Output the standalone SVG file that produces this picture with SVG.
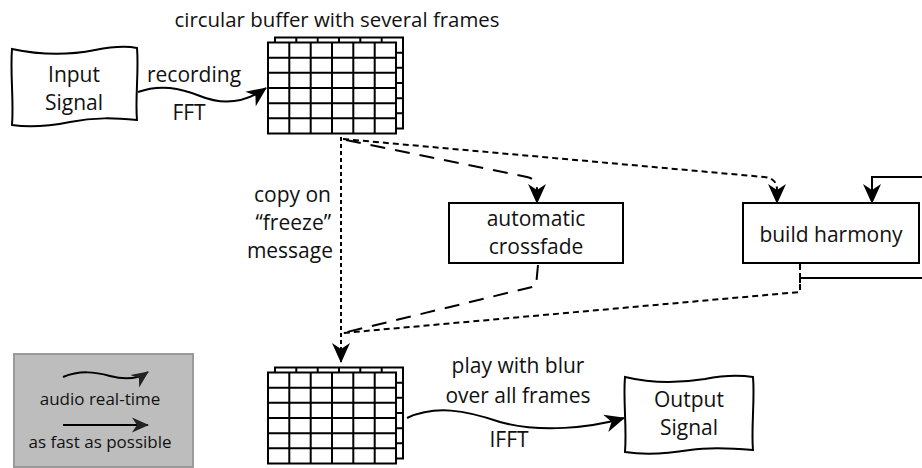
<svg xmlns="http://www.w3.org/2000/svg" xmlns:xlink="http://www.w3.org/1999/xlink" width="922" height="468" viewBox="0 0 922 468">
  <style>
    text { font-family: "Open Sans", "Noto Sans", sans-serif; fill: #111; }
    .lbl { font-size: 21px; text-anchor: middle; }
    .lbl-r { font-size: 21px; text-anchor: end; }
    .title { font-size: 20.4px; text-anchor: middle; }
    .small { font-size: 17px; text-anchor: middle; }
    .box { fill: #fff; stroke: #000; stroke-width: 2; }
    .grid { fill: #fff; stroke: #000; stroke-width: 2; }
    .wire { fill: none; stroke: #000; stroke-width: 2; }
    .dot { stroke-dasharray: 4 3; }
    .dash { stroke-dasharray: 6 4; }
    .long { stroke-dasharray: 15 10; }
  </style>
  <defs>
    <marker id="ah" viewBox="0 0 20 20" refX="19" refY="10" markerWidth="20" markerHeight="20" markerUnits="userSpaceOnUse" orient="auto">
      <path d="M0,1 L20,10 L0,19 L6,10 z" fill="#000"/>
    </marker>
    <marker id="ah-s" viewBox="0 0 20 20" refX="19" refY="10" markerWidth="17" markerHeight="17" markerUnits="userSpaceOnUse" orient="auto">
      <path d="M0,1 L20,10 L0,19 L6,10 z" fill="#222"/>
    </marker>
    <!-- one spectral frame: 6 x 6 cells -->
    <g id="frame">
      <rect class="grid" x="0" y="0" width="128" height="91"/>
      <path class="wire" d="M21.3,0V91 M42.7,0V91 M64,0V91 M85.3,0V91 M106.7,0V91 M0,15.2H128 M0,30.3H128 M0,45.5H128 M0,60.7H128 M0,75.8H128"/>
    </g>
    <!-- stack of frames: back frame peeks out above and to the right -->
    <g id="frames">
      <use xlink:href="#frame" x="7" y="-5"/>
      <use xlink:href="#frame" x="0" y="0"/>
    </g>
  </defs>

  <rect width="922" height="468" fill="#fff"/>

  <g id="connectors">
    <!-- recording / FFT -->
    <path class="wire" d="M138,92 C160,84 180,88 200,96 C222,105 245,103 266,88" marker-end="url(#ah)"/>
    <!-- copy on freeze -->
    <path class="wire dot" d="M341,137 L341,362" marker-end="url(#ah)"/>
    <!-- buffer to crossfade -->
    <path class="wire long" d="M346,140 L527,177 Q537,179 537,190 L537,203" marker-end="url(#ah)"/>
    <!-- buffer to build harmony -->
    <path class="wire dash" d="M343,139 L764,177 Q777,178 777,190 L777,203" marker-end="url(#ah)"/>
    <!-- crossfade to frozen buffer -->
    <path class="wire long" d="M538,265 L536,286 L343,333"/>
    <!-- build harmony to frozen buffer -->
    <path class="wire dash" d="M800,264 L800,292 L343,333"/>
    <!-- build harmony feedback -->
    <path class="wire" d="M800,273 V283 M800,278 H922"/>
    <path class="wire" d="M922,177 H872 V203" marker-end="url(#ah)"/>
    <!-- play / IFFT -->
    <path class="wire" d="M407,418 C435,405 465,410 500,422 C540,433 590,428 624,418" marker-end="url(#ah)"/>
  </g>

  <g id="input-signal">
    <path class="box" d="M12,49 C40,55 70,55 95,50 C115,46 128,46 137,48 C139,72 135,98 137,120 C115,118 95,117 70,122 C45,127 25,127 12,125 C14,100 10,74 12,49 z"/>
    <text class="lbl" x="74" y="82">Input</text>
    <text class="lbl" x="74" y="110">Signal</text>
  </g>

  <g id="live-buffer">
    <text class="title" x="337" y="27">circular buffer with several frames</text>
    <use xlink:href="#frames" x="268" y="42.5"/>
  </g>

  <text class="lbl" x="194" y="82">recording</text>
  <text class="lbl" x="189" y="120">FFT</text>

  <g id="freeze-label">
    <text class="lbl-r" x="331" y="202">copy on</text>
    <text class="lbl-r" x="331" y="230">“freeze”</text>
    <text class="lbl-r" x="333" y="258">message</text>
  </g>

  <g id="crossfade">
    <rect class="box" x="449" y="203" width="174" height="60"/>
    <text class="lbl" x="536" y="226">automatic</text>
    <text class="lbl" x="536" y="254">crossfade</text>
  </g>

  <g id="build-harmony">
    <rect class="box" x="743" y="203" width="176" height="60"/>
    <text class="lbl" x="831" y="242">build harmony</text>
  </g>

  <g id="frozen-buffer">
    <use xlink:href="#frames" x="268" y="372.5"/>
  </g>

  <g id="play-label">
    <text class="lbl" x="518" y="373">play with blur</text>
    <text class="lbl" x="518" y="403">over all frames</text>
    <text class="lbl" x="509" y="447">IFFT</text>
  </g>

  <g id="output-signal">
    <path class="box" d="M625,377 C650,383 680,383 705,379 C725,375 740,375 753,377 C755,400 751,428 753,450 C730,448 710,447 690,450 C665,454 645,455 625,452 C627,428 623,400 625,377 z"/>
    <text class="lbl" x="689" y="407">Output</text>
    <text class="lbl" x="689" y="435">Signal</text>
  </g>

  <g id="legend">
    <rect x="14" y="354" width="179" height="113" fill="#bdbdbd" stroke="#9a9a9a" stroke-width="2"/>
    <path class="wire" stroke-width="1.8" d="M63,377 C80,370 95,372 110,376 C125,380 138,379 148,372" marker-end="url(#ah-s)"/>
    <text class="small" x="100" y="405">audio real-time</text>
    <path class="wire" stroke-width="1.8" d="M63,425 L148,425" marker-end="url(#ah-s)"/>
    <text class="small" x="100" y="448">as fast as possible</text>
  </g>
</svg>
